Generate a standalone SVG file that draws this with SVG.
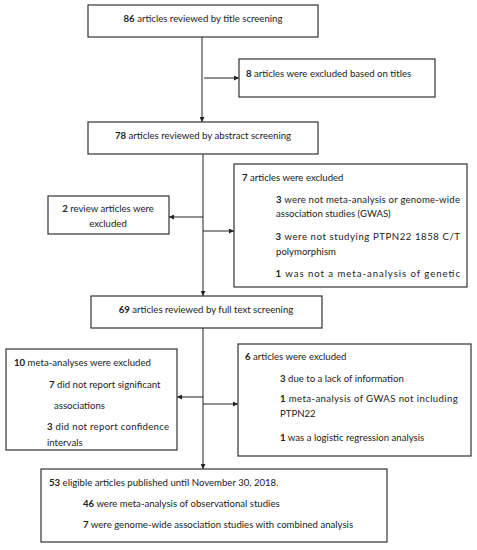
<svg xmlns="http://www.w3.org/2000/svg" width="477" height="550" viewBox="0 0 477 550">
<defs>
<marker id="ah" viewBox="0 0 10 10" refX="10" refY="5" markerWidth="5" markerHeight="5" orient="auto" markerUnits="userSpaceOnUse">
<path d="M0,0 L10,5 L0,10 z" fill="#222"/>
</marker>
<style>
rect{fill:#fff;stroke:#333;stroke-width:1.2}
text{font-family:Lato,"Liberation Sans",sans-serif;font-size:9.6px;fill:#222}
.b{font-weight:bold}
.c{text-anchor:middle}
.ln{stroke:#222;stroke-width:1;fill:none}
</style>
</defs>
<rect x="0" y="0" width="477" height="550" style="fill:#fff;stroke:none"/>
<g id="connectors">
<line class="ln" x1="202" y1="37" x2="202" y2="122" marker-end="url(#ah)"/>
<line class="ln" x1="204" y1="78" x2="239" y2="78" marker-end="url(#ah)"/>
<line class="ln" x1="203" y1="154" x2="203" y2="296" marker-end="url(#ah)"/>
<line class="ln" x1="203" y1="217" x2="169" y2="217" marker-end="url(#ah)"/>
<line class="ln" x1="203" y1="231" x2="234" y2="231" marker-end="url(#ah)"/>
<line class="ln" x1="203" y1="328" x2="203" y2="469" marker-end="url(#ah)"/>
<line class="ln" x1="203" y1="397" x2="177" y2="397" marker-end="url(#ah)"/>
<line class="ln" x1="203" y1="404" x2="238" y2="404" marker-end="url(#ah)"/>
</g>
<g id="n1">
<rect x="88" y="5" width="230" height="32"/>
<text class="c" x="203" y="21.5"><tspan class="b">86</tspan> articles reviewed by title screening</text>
</g>
<g id="n2">
<rect x="239" y="59" width="196" height="38"/>
<text x="246" y="77"><tspan class="b">8</tspan> articles were excluded based on titles</text>
</g>
<g id="n3">
<rect x="88" y="122" width="230" height="32"/>
<text class="c" x="203" y="138.5"><tspan class="b">78</tspan> articles reviewed by abstract screening</text>
</g>
<g id="n4">
<rect x="48" y="196" width="121" height="38"/>
<text class="c" x="108" y="211.5"><tspan class="b">2</tspan> review articles were</text>
<text class="c" x="108" y="227">excluded</text>
</g>
<g id="n5">
<rect x="234" y="164" width="233" height="123"/>
<text x="242" y="180.5"><tspan class="b">7</tspan> articles were excluded</text>
<text x="276" y="202.8" textLength="184" lengthAdjust="spacing"><tspan class="b">3</tspan> were not meta-analysis or genome-wide</text>
<text x="276" y="217">association studies (GWAS)</text>
<text x="275.5" y="239.5" textLength="184.5" lengthAdjust="spacing"><tspan class="b">3</tspan> were not studying PTPN22 1858 C/T</text>
<text x="276" y="254.5">polymorphism</text>
<text x="275.5" y="276.5" textLength="184.5" lengthAdjust="spacing"><tspan class="b">1</tspan> was not a meta-analysis of genetic</text>
</g>
<g id="n6">
<rect x="91" y="296" width="231" height="32"/>
<text class="c" x="206" y="312.8"><tspan class="b">69</tspan> articles reviewed by full text screening</text>
</g>
<g id="n7">
<rect x="6" y="349" width="171" height="101"/>
<text x="14" y="366"><tspan class="b">10</tspan> meta-analyses were excluded</text>
<text x="49" y="387.8"><tspan class="b">7</tspan> did not report significant</text>
<text x="54" y="408.8">associations</text>
<text x="47" y="429.8" textLength="122" lengthAdjust="spacing"><tspan class="b">3</tspan> did not report confidence</text>
<text x="47" y="445.5">intervals</text>
</g>
<g id="n8">
<rect x="238" y="344" width="233" height="112"/>
<text x="245" y="359.8"><tspan class="b">6</tspan> articles were excluded</text>
<text x="280" y="381.5"><tspan class="b">3</tspan> due to a lack of information</text>
<text x="280" y="402" textLength="177.7" lengthAdjust="spacing"><tspan class="b">1</tspan> meta-analysis of GWAS not including</text>
<text x="280" y="417.3">PTPN22</text>
<text x="280" y="440.5"><tspan class="b">1</tspan> was a logistic regression analysis</text>
</g>
<g id="n9">
<rect x="41" y="469" width="346" height="73"/>
<text x="49" y="486"><tspan class="b">53</tspan> eligible articles published until November 30, 2018.</text>
<text x="83" y="507"><tspan class="b">46</tspan> were meta-analysis of observational studies</text>
<text x="83" y="528"><tspan class="b">7</tspan> were genome-wide association studies with combined analysis</text>
</g>
</svg>
